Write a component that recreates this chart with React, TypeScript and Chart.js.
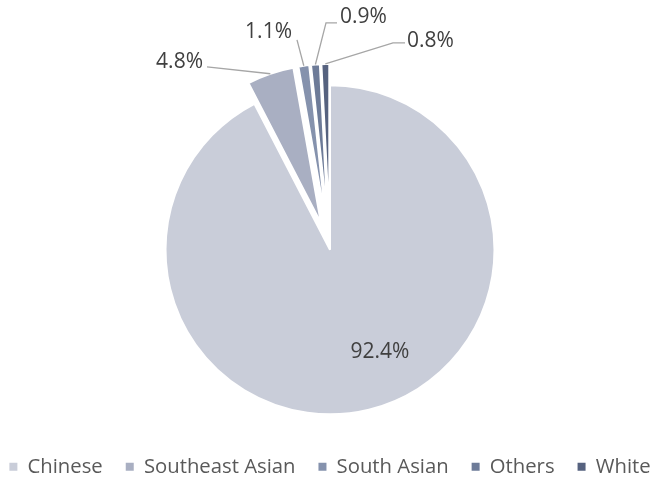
import React, { useEffect, useRef } from "react";
import { Chart, registerables } from "chart.js";

Chart.register(...registerables);

const categories = ["Chinese", "Southeast Asian", "South Asian", "Others", "White"];
const shares = [92.4, 4.8, 1.1, 0.9, 0.8];
const sliceColors = ["#C9CDD9", "#A9AFC2", "#8592AD", "#6D7B98", "#56627F"];
// explosion distance (px) and radius ratio for pulled-out slices
const explodeDistance = [0, 28, 28, 28, 28];
const explodedRadiusRatio = 0.96;

// label placement relative to the pie centre: text anchor, alignment, leader elbow/end
const labelLayout = [
  { dx: 50, dy: 102, align: "center", leader: null },
  { dx: -127, dy: -188, align: "right", leader: [[-123, -183]] },
  { dx: -38, dy: -218, align: "right", leader: [[-33, -210]] },
  { dx: 10, dy: -233, align: "left", leader: [[-4, -227], [7, -227]] },
  { dx: 77, dy: -209, align: "left", leader: [[63, -207], [75, -207]] },
];

const explodePlugin = {
  id: "explodeSlices",
  afterDatasetsUpdate(chart: any) {
    const meta = chart.getDatasetMeta(0);
    meta.data.forEach((arc: any, i: number) => {
      const d = explodeDistance[i] || 0;
      if (!d) return;
      const mid = (arc.startAngle + arc.endAngle) / 2;
      arc.x += Math.cos(mid) * d;
      arc.y += Math.sin(mid) * d;
      arc.outerRadius = arc.outerRadius * explodedRadiusRatio;
    });
  },
};

const labelPlugin = {
  id: "sliceLabels",
  afterDatasetsDraw(chart: any) {
    const meta = chart.getDatasetMeta(0);
    const ctx = chart.ctx;
    const total = shares.reduce((a, b) => a + b, 0);
    const cx = meta.data[0].x;
    const cy = meta.data[0].y;
    ctx.save();
    meta.data.forEach((arc: any, i: number) => {
      const { x, y, startAngle, endAngle, outerRadius } = arc;
      const mid = (startAngle + endAngle) / 2;
      const lay = labelLayout[i];
      if (lay.leader) {
        const sx = x + Math.cos(mid) * outerRadius;
        const sy = y + Math.sin(mid) * outerRadius;
        ctx.beginPath();
        ctx.strokeStyle = "#A6A6A6";
        ctx.lineWidth = 1.3;
        ctx.moveTo(sx, sy);
        lay.leader.forEach((p: number[]) => ctx.lineTo(cx + p[0], cy + p[1]));
        ctx.stroke();
      }
      const pct = ((shares[i] / total) * 100).toFixed(1) + "%";
      ctx.fillStyle = "#404040";
      ctx.font = "21px 'Open Sans'";
      ctx.textAlign = lay.align;
      ctx.textBaseline = "middle";
      ctx.fillText(pct, cx + lay.dx, cy + lay.dy);
    });
    ctx.restore();
  },
};

export default function App() {
  const ref = useRef<HTMLCanvasElement>(null);
  useEffect(() => {
    if (!ref.current) return;
    const base =
      (Chart as any).overrides?.doughnut?.plugins?.legend?.labels?.generateLabels;
    const chart = new Chart(ref.current, {
      type: "pie",
      data: {
        labels: categories,
        datasets: [
          {
            data: shares,
            backgroundColor: sliceColors,
            borderColor: "#FFFFFF",
            borderWidth: 2,
            clip: false,
          } as any,
        ],
      },
      options: {
        animation: false,
        responsive: true,
        maintainAspectRatio: false,
        radius: 164.5,
        layout: { padding: { left: 6, right: 0, top: 66, bottom: 0 } },
        plugins: {
          tooltip: { enabled: false },
          legend: {
            position: "bottom",
            labels: {
              boxWidth: 8,
              boxHeight: 8,
              padding: 23,
              color: "#595959",
              font: { family: "'Open Sans'", size: 20.3 },
              generateLabels: (c: any) =>
                (base ? base(c) : []).map((l: any) => ({
                  ...l,
                  lineWidth: 0,
                  strokeStyle: "rgba(0,0,0,0)",
                })),
            },
          },
        },
      } as any,
      plugins: [explodePlugin, labelPlugin],
    });
    return () => chart.destroy();
  }, []);
  return (
    <div style={{ position: "fixed", left: -23, top: 0, width: 700, height: 487 }}>
      <canvas ref={ref} />
    </div>
  );
}
